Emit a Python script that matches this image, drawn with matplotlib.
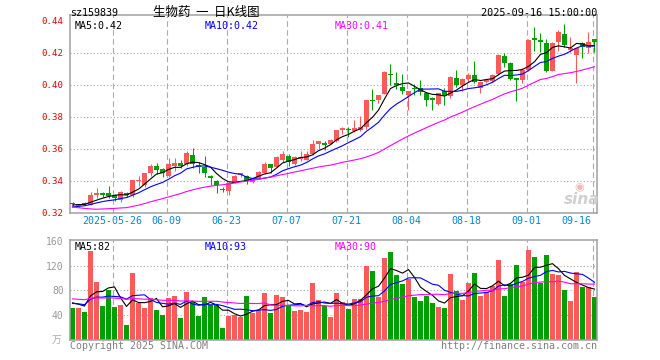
import numpy as np
import pandas as pd
import matplotlib
matplotlib.use("Agg")
import matplotlib.pyplot as plt

code = "sz159839"
title = "生物药  一  日K线图"
stamp = "2025-09-16 15:00:00"

# daily candles, 2025-05-15 .. 2025-09-16
opens = [0.3259, 0.3241, 0.3258, 0.3251, 0.3315, 0.3320, 0.3320, 0.3308, 0.3282, 0.3325,
         0.3308, 0.3398, 0.3373, 0.3451, 0.3492, 0.3471, 0.3431, 0.3492, 0.3510, 0.3502,
         0.3559, 0.3497, 0.3487, 0.3431, 0.3400, 0.3347, 0.3336, 0.3384, 0.3435, 0.3431,
         0.3392, 0.3414, 0.3450, 0.3502, 0.3485, 0.3531, 0.3552, 0.3506, 0.3535, 0.3531,
         0.3565, 0.3631, 0.3633, 0.3631, 0.3648, 0.3715, 0.3725, 0.3710, 0.3715, 0.3735,
         0.3904, 0.3902, 0.3944, 0.4067, 0.4013, 0.3985, 0.3935, 0.3977, 0.3977, 0.3946,
         0.3912, 0.3877, 0.3960, 0.3931, 0.4044, 0.3998, 0.4033, 0.4060, 0.3981, 0.4019,
         0.4023, 0.4065, 0.4181, 0.4133, 0.4037, 0.4029, 0.4092, 0.4294, 0.4279, 0.4258,
         0.4085, 0.4265, 0.4315, 0.4217, 0.4185, 0.4258, 0.4227, 0.4285]
highs = [0.3268, 0.3257, 0.3267, 0.3329, 0.3353, 0.3329, 0.3365, 0.3318, 0.3333, 0.3329,
         0.3404, 0.3430, 0.3447, 0.3506, 0.3512, 0.3478, 0.3543, 0.3543, 0.3527, 0.3584,
         0.3604, 0.3518, 0.3553, 0.3433, 0.3402, 0.3363, 0.3394, 0.3433, 0.3449, 0.3433,
         0.3414, 0.3458, 0.3517, 0.3502, 0.3552, 0.3585, 0.3569, 0.3552, 0.3585, 0.3585,
         0.3656, 0.3646, 0.3648, 0.3658, 0.3719, 0.3735, 0.3735, 0.3781, 0.3802, 0.3906,
         0.3975, 0.3938, 0.4083, 0.4131, 0.4079, 0.4065, 0.3960, 0.4006, 0.4027, 0.3956,
         0.3925, 0.3948, 0.3977, 0.4052, 0.4092, 0.4040, 0.4071, 0.4148, 0.4021, 0.4029,
         0.4065, 0.4190, 0.4200, 0.4144, 0.4040, 0.4102, 0.4285, 0.4363, 0.4321, 0.4285,
         0.4269, 0.4342, 0.4377, 0.4300, 0.4231, 0.4269, 0.4327, 0.4285]
lows = [0.3240, 0.3235, 0.3250, 0.3251, 0.3294, 0.3298, 0.3290, 0.3275, 0.3267, 0.3298,
        0.3298, 0.3369, 0.3360, 0.3431, 0.3441, 0.3420, 0.3420, 0.3461, 0.3482, 0.3492,
        0.3482, 0.3445, 0.3425, 0.3373, 0.3324, 0.3332, 0.3313, 0.3384, 0.3425, 0.3379,
        0.3388, 0.3410, 0.3444, 0.3448, 0.3483, 0.3517, 0.3490, 0.3496, 0.3525, 0.3527,
        0.3558, 0.3600, 0.3594, 0.3627, 0.3642, 0.3694, 0.3673, 0.3704, 0.3710, 0.3725,
        0.3844, 0.3885, 0.3940, 0.3996, 0.3975, 0.3944, 0.3840, 0.3933, 0.3933, 0.3869,
        0.3842, 0.3873, 0.3873, 0.3919, 0.3988, 0.3960, 0.4019, 0.4008, 0.3946, 0.4008,
        0.4019, 0.4060, 0.4113, 0.4029, 0.3898, 0.4008, 0.4088, 0.4210, 0.4206, 0.4081,
        0.4085, 0.4210, 0.4238, 0.4206, 0.4008, 0.4165, 0.4196, 0.4206]
closes = [0.3255, 0.3253, 0.3255, 0.3308, 0.3320, 0.3317, 0.3305, 0.3292, 0.3329, 0.3310,
          0.3404, 0.3402, 0.3445, 0.3492, 0.3465, 0.3447, 0.3502, 0.3512, 0.3492, 0.3573,
          0.3502, 0.3487, 0.3449, 0.3414, 0.3375, 0.3345, 0.3384, 0.3429, 0.3445, 0.3400,
          0.3408, 0.3456, 0.3502, 0.3481, 0.3548, 0.3565, 0.3517, 0.3548, 0.3546, 0.3565,
          0.3631, 0.3646, 0.3629, 0.3656, 0.3715, 0.3731, 0.3715, 0.3731, 0.3735, 0.3902,
          0.3900, 0.3938, 0.4079, 0.4062, 0.3996, 0.3960, 0.3958, 0.3973, 0.3954, 0.3904,
          0.3908, 0.3946, 0.3931, 0.4050, 0.3998, 0.4035, 0.4060, 0.4019, 0.4019, 0.4029,
          0.4060, 0.4185, 0.4133, 0.4035, 0.4033, 0.4092, 0.4279, 0.4279, 0.4265, 0.4085,
          0.4258, 0.4327, 0.4248, 0.4231, 0.4227, 0.4238, 0.4265, 0.4265]
# volume, 万
volumes = [52.3, 52.0, 45.8, 144.4, 94.3, 55.5, 80.8, 53.9, 56.6, 24.2,
           108.8, 59.3, 52.3, 67.3, 48.5, 40.4, 67.3, 71.1, 36.1, 77.6,
           62.0, 38.8, 69.0, 56.6, 56.6, 19.9, 38.8, 40.4, 37.7, 71.1,
           44.2, 48.5, 76.5, 44.2, 72.7, 70.0, 56.6, 47.4, 48.5, 45.8,
           92.7, 64.6, 55.0, 37.7, 76.5, 62.0, 50.1, 66.3, 66.3, 120.1,
           111.5, 70.0, 132.5, 142.2, 105.0, 90.5, 98.6, 69.5, 63.3, 70.3,
           59.0, 53.7, 52.0, 107.0, 79.5, 65.0, 92.4, 108.6, 71.4, 77.9,
           87.6, 129.6, 71.4, 90.8, 121.5, 94.1, 145.8, 134.5, 92.1, 137.4,
           106.7, 105.0, 80.8, 63.8, 109.1, 84.9, 84.9, 68.7]

# the 29 sessions before the window, only needed to start the averages
pre_close = [0.339, 0.338, 0.340, 0.3386, 0.327, 0.325, 0.324, 0.325, 0.3243, 0.318,
             0.316, 0.315, 0.316, 0.316, 0.3165, 0.318, 0.319, 0.318, 0.319, 0.3191,
             0.321, 0.322, 0.323, 0.322, 0.3235, 0.324, 0.325, 0.324, 0.3255]
pre_vol = [72, 68, 75, 70, 66, 71, 69, 73, 70, 67, 72, 70, 68, 74, 69, 71, 70, 66, 72, 70,
           58, 60, 57, 59, 56, 63, 61, 62, 62]

date_labels = ["2025-05-26", "06-09", "06-23", "07-07", "07-21", "08-04", "08-18", "09-01", "09-16"]
date_idx = [7, 16, 26, 36, 46, 56, 66, 76, 87]
price_ticks = [0.32, 0.34, 0.36, 0.38, 0.40, 0.42, 0.44]
vol_ticks = [40, 80, 120, 160]

RED = "#fa5a5a"
GREEN = "#00a000"
GRID = "#aaaaaa"
FRAME = "#a0a0a0"
MONO = "DejaVu Sans Mono"
CJK = ["Noto Sans CJK SC", "DejaVu Sans"]


def ma(pre, vals, n):
    s = pd.Series(list(pre) + list(vals), dtype=float)
    return s.rolling(n).mean().to_numpy()[len(pre):]


o = np.array(opens)
h = np.array(highs)
l = np.array(lows)
c = np.array(closes)
v = np.array(volumes)
x = np.arange(len(c))
colors = np.where(c >= o, RED, GREEN)

W, H = 660, 360
fig = plt.figure(figsize=(W / 100, H / 100), dpi=100)
ax = fig.add_axes([70 / W, 1 - 212.7 / H, 527 / W, 197.7 / H])
axv = fig.add_axes([70 / W, 1 - 340 / H, 527 / W, 100 / H])

for a in (ax, axv):
    a.set_xlim(-0.417, 87.417)
    for d in date_idx:
        a.axvline(d - 0.3, color=GRID, lw=0.8, ls=(0, (5, 3)), zorder=0)
    for s in a.spines.values():
        s.set_color(FRAME)
        s.set_linewidth(1.1)
    a.set_xticks([])
    a.tick_params(axis="y", length=0, pad=4.5)

# --- price panel
ax.set_ylim(0.32, 0.32 + 197.7 / 1600)
for p in price_ticks[1:-1]:
    ax.axhline(p, color=GRID, lw=0.8, ls=(0, (1, 2)), zorder=0)
ax.set_yticks(price_ticks)
ax.set_yticklabels(["%.2f" % p for p in price_ticks], family=MONO, fontsize=6.6, color="#e80000")

ax.vlines(x, l, h, color=colors, lw=0.75, zorder=2)
body = np.abs(c - o)
doji = body < 0.001
bottom = np.where(doji, (c + o) / 2 - 0.0005, np.minimum(c, o))
ax.bar(x, np.where(doji, 0.001, body), bottom=bottom, width=0.83, color=colors, lw=0, zorder=3)

m5, m10, m30 = ma(pre_close, c, 5), ma(pre_close, c, 10), ma(pre_close, c, 30)
ax.plot(x, m5, color="black", lw=0.8, zorder=4)
ax.plot(x, m10, color="#0000ff", lw=0.8, zorder=4)
ax.plot(x, m30, color="#ff00ff", lw=0.8, zorder=4)

# --- volume panel
axv.set_ylim(0, 100 / 0.619)
for q in vol_ticks[:-1]:
    axv.axhline(q, color=GRID, lw=0.8, ls=(0, (1, 2)), zorder=0)
axv.set_yticks(vol_ticks)
axv.set_yticklabels([str(q) for q in vol_ticks], family=MONO, fontsize=7, color="#999999")
axv.bar(x, v, width=0.83, color=colors, lw=0, zorder=2)
vm5, vm10, vm30 = ma(pre_vol, v, 5), ma(pre_vol, v, 10), ma(pre_vol, v, 30)
axv.plot(x, vm5, color="black", lw=0.8, zorder=4)
axv.plot(x, vm10, color="#0000ff", lw=0.8, zorder=4)
axv.plot(x, vm30, color="#ff00ff", lw=0.8, zorder=4)


def ftext(px, py, s, **kw):
    return fig.text(px / W, 1 - py / H, s, **kw)


# header
ftext(70, 13, code, family=MONO, fontsize=7.2, ha="left", va="center")
ftext(206, 12.5, title, family=CJK, fontsize=9, ha="center", va="center")
ftext(597, 12.5, stamp, family=MONO, fontsize=7.3, ha="right", va="center")

# moving average captions
ftext(75, 26, "MA5:%.2f" % m5[-1], family=MONO, fontsize=7.2, color="black", va="center")
ftext(205, 26, "MA10:%.2f" % m10[-1], family=MONO, fontsize=7.2, color="#0000ff", va="center")
ftext(335, 26, "MA30:%.2f" % m30[-1], family=MONO, fontsize=7.2, color="#ff00ff", va="center")
ftext(75, 247, "MA5:%d" % round(vm5[-1]), family=MONO, fontsize=7.2, color="black", va="center")
ftext(205, 247, "MA10:%d" % round(vm10[-1]), family=MONO, fontsize=7.2, color="#0000ff", va="center")
ftext(335, 247, "MA30:%d" % round(vm30[-1]), family=MONO, fontsize=7.2, color="#ff00ff", va="center")

# date labels under the price panel
for lab, d in zip(date_labels, date_idx):
    px = 70 + 6 * (d - 0.3 + 0.417)
    if d == date_idx[-1]:
        ftext(591, 221.5, lab, family=MONO, fontsize=7.2, color="#0a84d0", ha="right", va="center")
    else:
        ftext(px, 221.5, lab, family=MONO, fontsize=7.2, color="#0a84d0", ha="center", va="center")

# watermark + footer
ftext(579, 187, "\u25c9", family="DejaVu Sans", fontsize=8, color="#f2b8b8", ha="center", va="center")
ftext(582, 199, "sina", fontsize=11, style="italic", weight="bold", color="#d0d0d0", ha="center", va="center")
ftext(57, 340, "万", family=CJK, fontsize=7, color="#aaaaaa", ha="center", va="center")
ftext(70, 346, "Copyright 2025 SINA.COM", family=MONO, fontsize=7.2, color="#808080", va="center")
ftext(597, 346, "http://finance.sina.com.cn", family=MONO, fontsize=7.2, color="#808080", ha="right", va="center")

fig.savefig("out.png", dpi=100)
